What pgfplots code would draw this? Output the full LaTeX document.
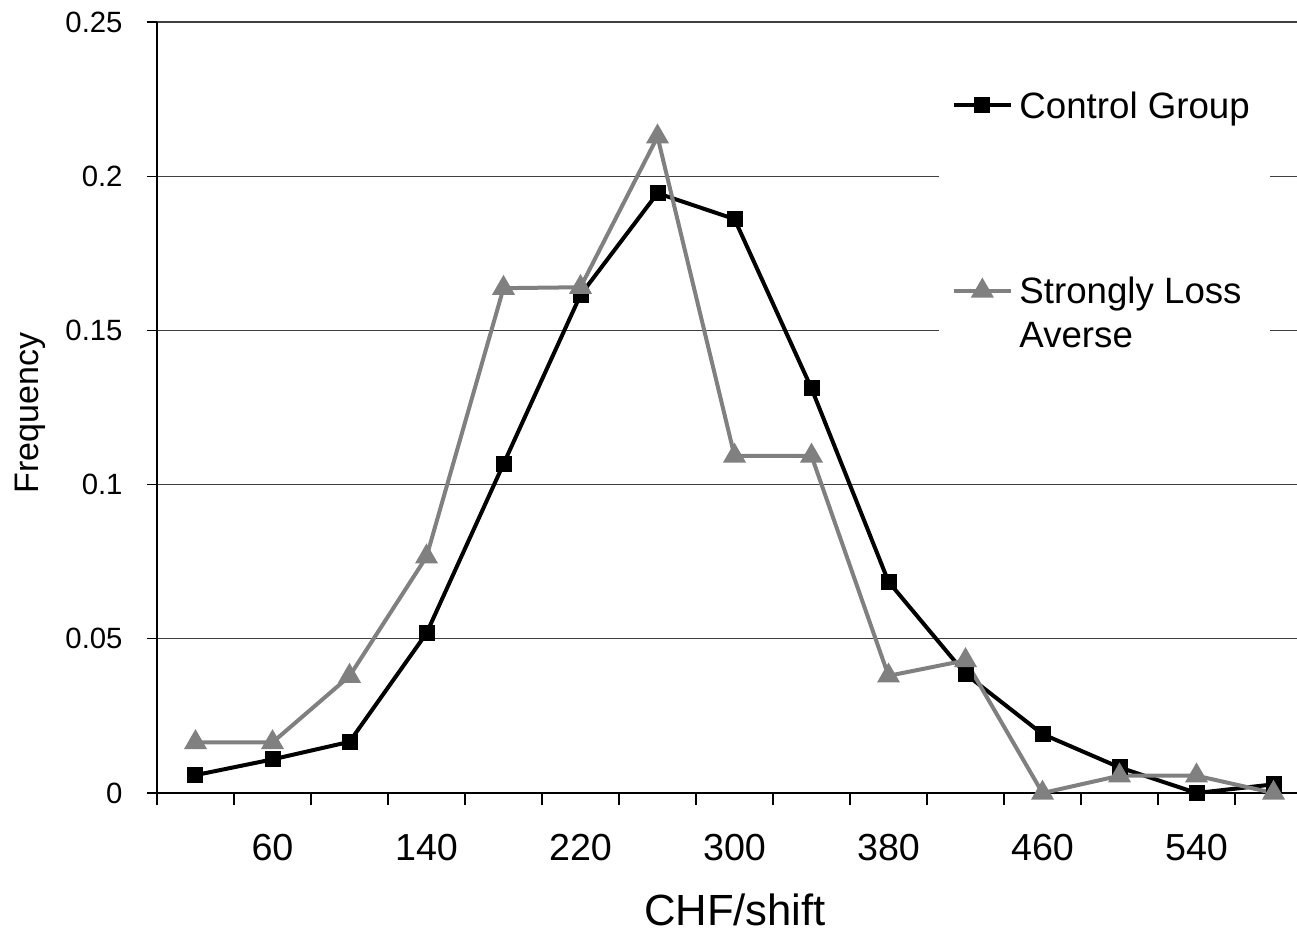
\documentclass[border=0pt]{standalone}
\usepackage{pgfplots}
\pgfplotsset{compat=1.18}
\usepackage{fontspec}
\setmainfont{Liberation Sans}
\definecolor{slagray}{RGB}{128,128,128}
\begin{document}
\begin{tikzpicture}
\useasboundingbox (-47.1pt,-41.7pt) rectangle (342pt,237.9pt);
\begin{axis}[
  at={(0,0)}, anchor=south west,
  scale only axis, width=342pt, height=231.3pt,
  xmin=0, xmax=592.2, ymin=0, ymax=0.25,
  axis lines=left, axis line style={-, black, line width=0.4pt},
  clip=false,
  font=\fontsize{11.3}{13.5}\selectfont,
  /pgf/number format/assume math mode=true,
  ytick={0,0.05,0.1,0.15,0.2,0.25},
  yticklabels={0,0.05,0.1,0.15,0.2,0.25},
  xtick={60,140,220,300,380,460,540},
  minor xtick={0,40,...,560},
  major x tick style={draw=none},
  tick align=outside,
  major tick length=3pt, minor tick length=3.6pt,
  tick style={black, line width=0.4pt},
  ymajorgrids, grid style={black!75, line width=0.4pt},
  yticklabel style={anchor=east, xshift=-3.8pt, font=\fontsize{8.8}{10.5}\selectfont},
  xticklabel style={anchor=center, yshift=-13.5pt},
  xlabel={CHF/shift}, ylabel={Frequency},
  every axis x label/.style={at={(axis description cs:0.507,-0.152)}, anchor=center, font=\fontsize{13.1}{16}\selectfont},
  every axis y label/.style={at={(axis description cs:-0.111,0.493)}, rotate=90, anchor=center, font=\fontsize{10.2}{12}\selectfont},
  legend style={draw=none, fill=white, at={(axis description cs:0.685,0.954)}, anchor=north west,
    inner xsep=4pt, inner ysep=8pt, row sep=41pt, font=\fontsize{11}{13.2}\selectfont,
    cells={anchor=base west}},
  legend image post style={yshift=3.9pt},
]
\addplot[black, line width=1.2pt, mark=square*, mark size=1.8pt, mark options={solid}] coordinates {
(20,0.0058) (60,0.0109) (100,0.0166) (140,0.0518) (180,0.1067) (220,0.1615) (260,0.1945)
(300,0.1861) (340,0.1312) (380,0.0685) (420,0.0386) (460,0.0191) (500,0.0083) (540,0.0) (580,0.0028)};
\addlegendentry{Control Group}
\addplot[slagray, line width=1.2pt, mark=triangle*, mark size=2.8pt, mark options={solid}] coordinates {
(20,0.0164) (60,0.0164) (100,0.0379) (140,0.0766) (180,0.1637) (220,0.1640) (260,0.2128)
(300,0.1093) (340,0.1093) (380,0.0380) (420,0.0430) (460,0.0) (500,0.0056) (540,0.0056) (580,0.0)};
\addlegendentry{\begin{tabular}[t]{@{}l@{}}Strongly Loss\\Averse\end{tabular}}
\end{axis}
\end{tikzpicture}
\end{document}
